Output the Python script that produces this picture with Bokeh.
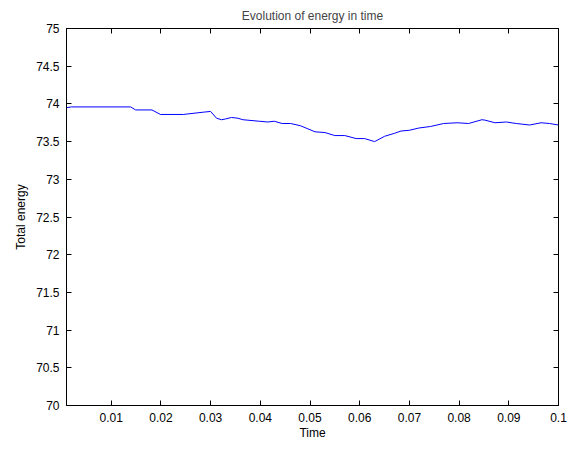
from bokeh.plotting import figure
from bokeh.models import LinearAxis, FixedTicker, Range1d
from bokeh.embed import file_html
from bokeh.resources import INLINE

# data
time = [0.001, 0.002, 0.0139, 0.0149, 0.0182, 0.0199, 0.0245, 0.0285, 0.0300,
        0.0312, 0.0322, 0.0330, 0.0342, 0.0355, 0.0365, 0.0398, 0.0415, 0.0428,
        0.0444, 0.0461, 0.0481, 0.0510, 0.0530, 0.0550, 0.0570, 0.0593, 0.0610,
        0.0630, 0.0650, 0.0670, 0.0683, 0.0700, 0.0719, 0.0742, 0.0769, 0.0796,
        0.0819, 0.0846, 0.0852, 0.0872, 0.0895, 0.0915, 0.0942, 0.0965, 0.0982, 0.1]
energy = [73.95, 73.96, 73.96, 73.92, 73.92, 73.86, 73.86, 73.89, 73.90,
          73.81, 73.79, 73.80, 73.82, 73.81, 73.79, 73.77, 73.76, 73.77,
          73.74, 73.74, 73.71, 73.63, 73.62, 73.58, 73.58, 73.54, 73.54,
          73.50, 73.57, 73.61, 73.64, 73.65, 73.68, 73.70, 73.74, 73.75,
          73.74, 73.79, 73.785, 73.75, 73.76, 73.74, 73.72, 73.75, 73.74, 73.72]

x_ticks = [0.01, 0.02, 0.03, 0.04, 0.05, 0.06, 0.07, 0.08, 0.09, 0.1]
x_labels = ["0.01", "0.02", "0.03", "0.04", "0.05", "0.06", "0.07", "0.08", "0.09", "0.1"]
y_ticks = [70, 70.5, 71, 71.5, 72, 72.5, 73, 73.5, 74, 74.5, 75]
y_labels = ["70", "70.5", "71", "71.5", "72", "72.5", "73", "73.5", "74", "74.5", "75"]

FONT = "Liberation Sans"

p = figure(width=568, height=442, output_backend="svg", toolbar_location=None,
           x_range=Range1d(0.001, 0.1), y_range=Range1d(70, 75),
           title="Evolution of energy in time",
           min_border_left=66, min_border_right=10, min_border_top=28, min_border_bottom=30)

p.title.align = "center"
p.title.text_font = FONT
p.title.text_font_size = "12px"
p.title.text_font_style = "normal"
p.title.offset = 0
p.title.standoff = 12

p.grid.visible = False
p.outline_line_color = "black"
p.outline_line_width = 1

def style_axis(ax, ticks, labels, show_labels):
    ax.ticker = FixedTicker(ticks=ticks)
    ax.major_label_overrides = {t: (l if show_labels else "") for t, l in zip(ticks, labels)}
    ax.major_tick_in = 5
    ax.major_tick_out = 0
    ax.minor_tick_in = 0
    ax.minor_tick_out = 0
    ax.axis_line_color = "black"
    ax.major_tick_line_color = "black"
    ax.major_label_text_font = FONT
    ax.major_label_text_font_size = "12px" if show_labels else "0px"
    ax.major_label_text_color = "black"
    ax.major_label_standoff = 7
    ax.axis_label_text_font = FONT
    ax.axis_label_text_font_size = "12px"
    ax.axis_label_text_font_style = "normal"
    ax.axis_label_text_color = "black"

style_axis(p.xaxis[0], x_ticks, x_labels, True)
style_axis(p.yaxis[0], y_ticks, y_labels, True)
p.xaxis[0].axis_label = "Time"
p.xaxis[0].axis_label_standoff = 1
p.yaxis[0].axis_label = "Total energy"
p.yaxis[0].axis_label_standoff = 5

top = LinearAxis()
style_axis(top, x_ticks, x_labels, False)
top.major_label_standoff = 0
p.add_layout(top, "above")
right = LinearAxis()
style_axis(right, y_ticks, y_labels, False)
right.major_label_standoff = 0
p.add_layout(right, "right")

p.line(time, energy, line_color="#0000ff", line_width=1)

open("out.html", "w").write(file_html(p, INLINE))
